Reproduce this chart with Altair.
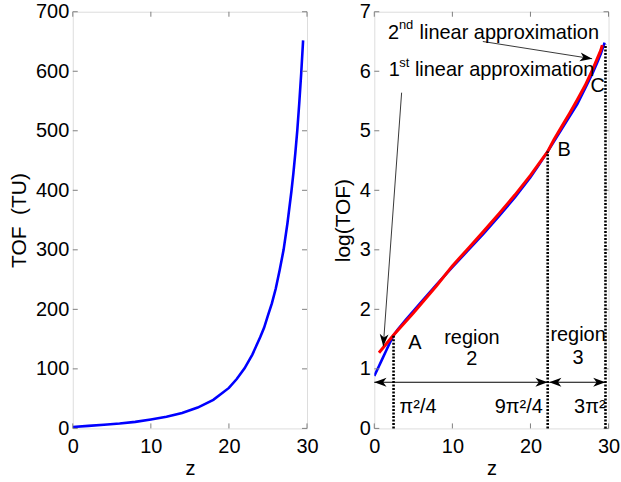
import altair as alt
import pandas as pd

FONT = "Liberation Sans"
GREY = "#808080"
FS = 20
W, H = 235, 418
TICK = 5

# ---------------- data ----------------
# left panel: TOF versus z
z_tof = [0, 2, 4, 6, 8, 10, 12, 14, 16, 18, 20, 21, 22, 23, 24, 24.5, 25, 25.5, 26, 26.5, 27, 27.5,
         28, 28.25, 28.5, 28.75, 29, 29.25, 29.5]
tof = [2.4, 4.3, 6.2, 8.2, 11, 15, 19.5, 26, 35, 48, 68, 83, 101, 124, 153, 169, 190, 210, 235, 266,
       300, 345, 398, 428, 462, 500, 545, 595, 652]

# right panel: log(TOF) versus z
z_log = [0, 0.5, 1, 1.5, 2, 2.5, 3, 4, 5, 6, 8, 10, 12, 14, 16, 18, 20, 21, 22.2, 23, 24, 25, 26, 27,
         28, 28.5, 29, 29.5]
log_tof = [0.88, 1.02, 1.16, 1.30, 1.44, 1.57, 1.66, 1.82, 1.97, 2.12, 2.42, 2.71, 2.99, 3.27, 3.57,
           3.88, 4.22, 4.41, 4.65, 4.82, 5.03, 5.24, 5.45, 5.71, 5.98, 6.13, 6.29, 6.48]

# 1st and 2nd linear approximations
z_lin1 = [0.6, 2.47, 5, 8, 10, 12, 14, 16, 18, 20, 22.2]
lin1 = [1.27, 1.57, 1.94, 2.40, 2.73, 3.02, 3.31, 3.61, 3.92, 4.25, 4.65]
z_lin2 = [22.2, 23, 24, 25, 26, 27, 28, 29, 29.2]
lin2 = [4.65, 4.85, 5.07, 5.29, 5.52, 5.76, 6.04, 6.35, 6.44]

# region boundaries pi^2/4, 9pi^2/4, 3pi^2 and the curve height there
bound_z = [2.467, 22.207, 29.609]
bound_top = [1.58, 4.65, 6.45]

# region double arrows
region_x1 = [0, 22.4]
region_x2 = [22.2, 29.6]
region_y = [0.775, 0.775]
head_z = [0, 22.2, 22.4, 29.6]
head_y = [0.775, 0.775, 0.775, 0.775]
head_angle = [180, 0, 180, 0]

# annotation arrows (start -> end)
ann_x1 = [13.9, 3.5]
ann_y1 = [6.50, 5.64]
ann_x2 = [27.9, 1.15]
ann_y2 = [6.21, 1.38]
ann_angle = [9, 94]

# text labels
lab_text = ["A", "B", "C", "region", "2", "region", "3", "π²/4", "9π²/4", "3π²"]
lab_z = [5.2, 24.3, 28.6, 12.5, 12.5, 26.1, 26.1, 5.6, 18.5, 27.6]
lab_y = [1.44, 4.68, 5.76, 1.52, 1.16, 1.57, 1.19, 0.36, 0.36, 0.36]

note_text = ["2", "linear approximation", "1", "linear approximation"]
note_z = [1.75, 5.8, 1.85, 5.2]
note_y = [6.64, 6.64, 6.02, 6.02]
sup_text = ["nd", "st"]
sup_z = [3.15, 3.2]
sup_y = [6.77, 6.14]

# axis ticks
x_ticks = [0, 10, 20, 30]
tof_ticks = [0, 100, 200, 300, 400, 500, 600, 700]
log_ticks = [0, 1, 2, 3, 4, 5, 6, 7]

# ---------------- helpers ----------------
ARROW = "M0,0 L-2,-0.72 L-1.45,0 L-2,0.72 Z"


def xs(field, dom, axis=alt.Undefined):
    return alt.X(field, type="quantitative", scale=alt.Scale(domain=dom, nice=False, zero=False), axis=axis)


def ys(field, dom, axis=alt.Undefined):
    return alt.Y(field, type="quantitative", scale=alt.Scale(domain=dom, nice=False, zero=False), axis=axis)


def panel(df, xf, yf, xdom, ydom, xvals, yvals, xtitle, ytitle, extra):
    ax = alt.Axis(orient="bottom", values=xvals, format="d", ticks=False, domain=False, grid=False,
                  title=xtitle, labelFont=FONT, labelFontSize=FS, labelColor="black", labelFlush=False,
                  labelPadding=8, titleFont=FONT, titleFontSize=FS, titleFontWeight="normal",
                  titleColor="black", titlePadding=2)
    ay = alt.Axis(orient="left", values=yvals, format="d", ticks=False, domain=False, grid=False,
                  title=ytitle, labelFont=FONT, labelFontSize=FS, labelColor="black", labelFlush=False,
                  labelPadding=4, titleFont=FONT, titleFontSize=FS + 1, titleFontWeight="normal",
                  titleColor="black", titlePadding=6)
    main = alt.Chart(df).mark_line(color="#0000ff", strokeWidth=2.6, clip=True).encode(
        x=xs(xf, xdom, ax), y=ys(yf, ydom, ay), order=alt.Order(xf, type="quantitative"))

    dfx = pd.DataFrame({"v": xvals})
    dfy = pd.DataFrame({"v": yvals})
    tick_style = dict(color=GREY, strokeWidth=1)
    tx_bottom = alt.Chart(dfx).mark_rule(**tick_style).encode(
        x=xs("v", xdom), y=alt.value(H), y2=alt.value(H - TICK))
    tx_top = alt.Chart(dfx).mark_rule(**tick_style).encode(
        x=xs("v", xdom), y=alt.value(0), y2=alt.value(TICK))
    ty_left = alt.Chart(dfy).mark_rule(**tick_style).encode(
        y=ys("v", ydom), x=alt.value(0), x2=alt.value(TICK))
    ty_right = alt.Chart(dfy).mark_rule(**tick_style).encode(
        y=ys("v", ydom), x=alt.value(W), x2=alt.value(W - TICK))
    return alt.layer(main, tx_bottom, tx_top, ty_left, ty_right, *extra).properties(width=W, height=H)


# ---------------- left panel ----------------
df_tof = pd.DataFrame({"z": z_tof, "tof": tof})
left = panel(df_tof, "z", "tof", [0, 30], [0, 700], x_ticks, tof_ticks, "z", "TOF\u00a0\u00a0(TU)", [])

# ---------------- right panel ----------------
XD, YD = [0, 30], [0, 7]
df_log = pd.DataFrame({"z": z_log, "lt": log_tof})
df_l1 = pd.DataFrame({"z": z_lin1, "lt": lin1})
df_l2 = pd.DataFrame({"z": z_lin2, "lt": lin2})
df_b = pd.DataFrame({"z": bound_z, "top": bound_top, "zero": [0, 0, 0]})
df_reg = pd.DataFrame({"x1": region_x1, "x2": region_x2, "y": region_y})
df_head = pd.DataFrame({"z": head_z, "y": head_y, "a": head_angle})
df_ann = pd.DataFrame({"x1": ann_x1, "y1": ann_y1, "x2": ann_x2, "y2": ann_y2, "a": ann_angle})
df_lab = pd.DataFrame({"t": lab_text, "z": lab_z, "y": lab_y})
df_note = pd.DataFrame({"t": note_text, "z": note_z, "y": note_y})
df_sup = pd.DataFrame({"t": sup_text, "z": sup_z, "y": sup_y})

red1 = alt.Chart(df_l1).mark_line(color="#ff0000", strokeWidth=3).encode(
    x=xs("z", XD), y=ys("lt", YD), order=alt.Order("z", type="quantitative"))
red2 = alt.Chart(df_l2).mark_line(color="#ff0000", strokeWidth=3).encode(
    x=xs("z", XD), y=ys("lt", YD), order=alt.Order("z", type="quantitative"))
dotted = alt.Chart(df_b).mark_rule(color="black", strokeWidth=2.6, strokeDash=[2, 1.5]).encode(
    x=xs("z", XD), y=ys("zero", YD), y2="top")
reg = alt.Chart(df_reg).mark_rule(color="black", strokeWidth=1).encode(
    x=xs("x1", XD), x2="x2", y=ys("y", YD))
heads = alt.Chart(df_head).mark_point(shape=ARROW, filled=True, color="black", size=150, opacity=1,
                                      strokeWidth=0).encode(
    x=xs("z", XD), y=ys("y", YD), angle=alt.Angle("a", type="quantitative", scale=None))
ann = alt.Chart(df_ann).mark_rule(color="#222222", strokeWidth=0.9).encode(
    x=xs("x1", XD), x2="x2", y=ys("y1", YD), y2="y2")
ann_heads = alt.Chart(df_ann).mark_point(shape=ARROW, filled=True, color="black", size=150, opacity=1,
                                         strokeWidth=0).encode(
    x=xs("x2", XD), y=ys("y2", YD), angle=alt.Angle("a", type="quantitative", scale=None))
labels = alt.Chart(df_lab).mark_text(font=FONT, fontSize=FS, color="black", align="center",
                                     baseline="middle").encode(x=xs("z", XD), y=ys("y", YD), text="t")
notes = alt.Chart(df_note).mark_text(font=FONT, fontSize=FS, color="black", align="left",
                                     baseline="middle").encode(x=xs("z", XD), y=ys("y", YD), text="t")
sups = alt.Chart(df_sup).mark_text(font=FONT, fontSize=13, color="black", align="left",
                                   baseline="middle").encode(x=xs("z", XD), y=ys("y", YD), text="t")

right = panel(df_log, "z", "lt", XD, YD, x_ticks, log_ticks, "z", "log(TOF)",
              [red1, red2, dotted, reg, heads, ann, ann_heads, labels, notes, sups])

chart = alt.hconcat(left, right, spacing=12.5).properties(
    padding={"left": 8, "top": 0, "right": 0, "bottom": 0}
).configure_view(stroke=GREY, strokeWidth=1).configure(background="white")

chart.save("out.html", embed_options={"renderer": "svg", "actions": False})
